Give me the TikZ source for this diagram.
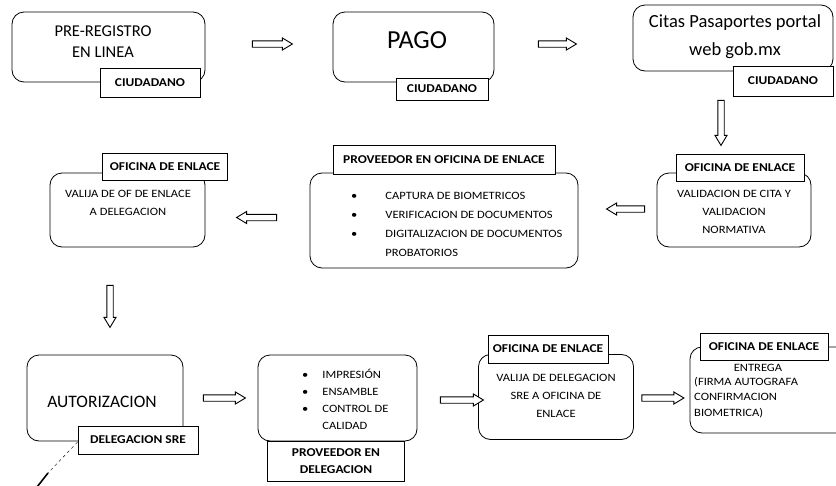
\documentclass[tikz,border=0pt]{standalone}
\usepackage{fontspec}
\setmainfont{Carlito}
\newfontfamily\widefont{Carlito}[FakeStretch=1.12]
\usetikzlibrary{calc}
\newcommand{\fs}[2]{\fontsize{#1}{#2}\selectfont}
% block arrow: start point, direction angle, length
\newcommand{\blockarrow}[3]{%
  \begin{scope}[shift={#1}, rotate=#2]
  \draw[line width=0.9pt, fill=white, line join=miter]
    (0,-3.2) -- (#3-10,-3.2) -- (#3-10,-6) -- (#3,0) -- (#3-10,6) -- (#3-10,3.2) -- (0,3.2) -- cycle;
  \end{scope}}
\begin{document}
\begin{tikzpicture}[x=1pt,y=-1pt,
  box/.style={draw, line width=0.8pt, rounded corners=12pt, inner sep=0pt},
  tag/.style={draw, fill=white, line width=0.8pt, inner sep=0pt, align=center, font=\widefont\bfseries\fs{12}{14}},
  txt/.style={inner sep=0pt, align=center, font=\widefont\fs{11.2}{18}},
  big/.style={inner sep=0pt, align=center}]
\useasboundingbox (0,0) rectangle (836,485);
% Row 1
\node[box, minimum width=193, minimum height=70] (a) at (108.5,47) {};
\node[big, font=\fs{16.5}{21}] (atx) at (103,42) {PRE-REGISTRO\\EN LINEA};
\node[tag, minimum width=100, minimum height=29] (atag) at (150,82.5) {CIUDADANO};
\node[box, minimum width=161, minimum height=70] (b) at (413.5,47) {};
\node[big, font=\fs{26}{28}] (btx) at (417,40) {PAGO};
\node[tag, minimum width=92, minimum height=22] (btag) at (442,89) {CIUDADANO};
\node[box, minimum width=200, minimum height=66] (c) at (733,38) {};
\node[big, font=\fs{18.5}{28}] (ctx) at (735,37) {Citas Pasaportes portal\\web gob.mx};
\node[tag, minimum width=100, minimum height=30] (ctag) at (783,81) {CIUDADANO};
% Row 2
\node[box, minimum width=154, minimum height=74] (d) at (734,210) {};
\node[tag, minimum width=128, minimum height=27] (dtag) at (740,168) {OFICINA DE ENLACE};
\node[txt] (dtx) at (734,212) {VALIDACION DE CITA Y\\VALIDACION\\NORMATIVA};
\node[box, minimum width=268, minimum height=95] (e) at (444,220.5) {};
\node[tag, minimum width=222, minimum height=29] (etag) at (444,160) {PROVEEDOR EN OFICINA DE ENLACE};
\node[inner sep=0pt, anchor=west, font=\widefont\fs{11.2}{19}] (etx) at (351,224) {%
  \begin{tabular}{@{}l@{\hspace{28pt}}l@{}}
  \textbullet & CAPTURA DE BIOMETRICOS\\
  \textbullet & VERIFICACION DE DOCUMENTOS\\
  \textbullet & DIGITALIZACION DE DOCUMENTOS\\
   & PROBATORIOS
  \end{tabular}};
\node[box, minimum width=155, minimum height=74] (f) at (127.5,210) {};
\node[tag, minimum width=125, minimum height=27] (ftag) at (165,166.5) {OFICINA DE ENLACE};
\node[txt] (ftx) at (128,202.5) {VALIJA DE OF DE ENLACE\\A DELEGACION};
% Row 3
\node[box, minimum width=156, minimum height=86] (g) at (105,398) {};
\node[big, font=\fs{17.5}{21}] (gtx) at (102,402) {AUTORIZACION};
\node[tag, minimum width=120, minimum height=28] (gtag) at (138,440) {DELEGACION SRE};
\node[box, minimum width=159, minimum height=86] (h) at (337.5,398) {};
\node[inner sep=0pt, anchor=west, font=\widefont\fs{11.2}{17}] (htx) at (302,400.5) {%
  \begin{tabular}{@{}l@{\hspace{14pt}}l@{}}
  \textbullet & IMPRESIÓN\\
  \textbullet & ENSAMBLE\\
  \textbullet & CONTROL DE\\
   & CALIDAD
  \end{tabular}};
\node[tag, minimum width=137, minimum height=40, font=\widefont\bfseries\fs{12}{17}] (htag) at (336,461) {PROVEEDOR EN\\DELEGACION};
\node[box, minimum width=155, minimum height=85] (i) at (556,397) {};
\node[tag, minimum width=120, minimum height=28] (itag) at (548,349) {OFICINA DE ENLACE};
\node[txt] (itx) at (556,396) {VALIJA DE DELEGACION\\SRE A OFICINA DE\\ENLACE};
\node[box, minimum width=170, minimum height=86] (j) at (775,390) {};
\node[tag, minimum width=128, minimum height=27] (jtag) at (764,347) {OFICINA DE ENLACE};
\node[txt] (jtx1) at (758,368) {ENTREGA};
\node[txt, align=left, anchor=north west, font=\widefont\fs{11.2}{15.5}] (jtx2) at (694,377) {(FIRMA AUTOGRAFA\\CONFIRMACION\\BIOMETRICA)};
% arrows
\blockarrow{($(a.east)+(47,-3)$)}{0}{40}
\blockarrow{($(b.east)+(44,-3)$)}{0}{38}
\blockarrow{($(c.south)+(-12,29)$)}{-90}{45}
\blockarrow{($(d.west)+(-12,-1)$)}{180}{38}
\blockarrow{($(e.west)+(-33,-3)$)}{180}{40}
\blockarrow{($(f.south)+(-17.5,38)$)}{-90}{42}
\blockarrow{($(g.east)+(20,0)$)}{0}{42}
\blockarrow{($(h.east)+(23,2)$)}{0}{43}
\blockarrow{($(i.east)+(8,1)$)}{0}{42}
% slash
\coordinate (s1) at ($(gtag.west)+(0,2)$);
\coordinate (s2) at (48,473);
\coordinate (s3) at (37,487);
\draw[line width=0.4pt, dashed] (s1) -- (s2);
\draw[line width=1.6pt] (s2) -- (s3);
\end{tikzpicture}
\end{document}
